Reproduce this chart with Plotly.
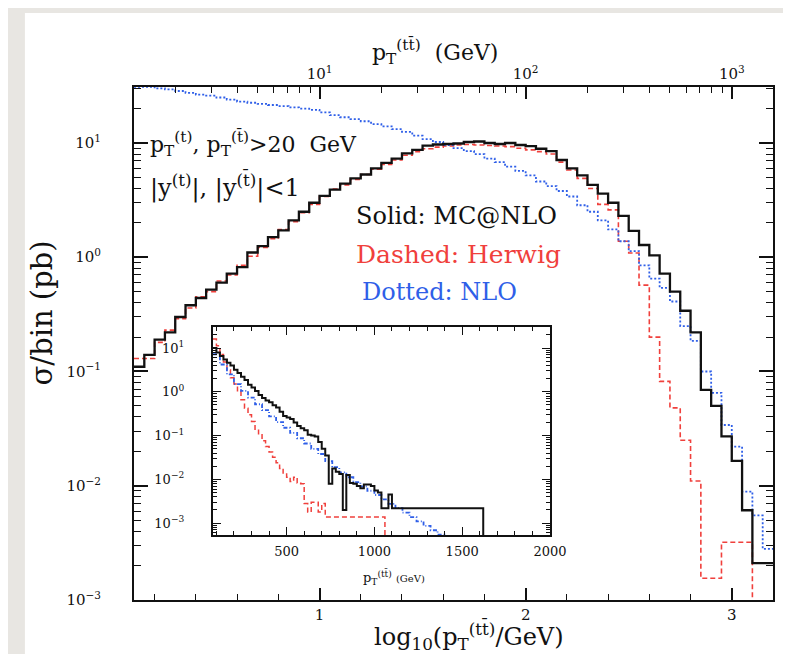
import math
import plotly.graph_objects as go

# ---------------- data ----------------
# main panel: histograms in log10(pT_ttbar / GeV), bins of 0.05 from 0.10 to 3.20
log_pt_edges = [round(0.10 + 0.05 * i, 2) for i in range(63)]

mcatnlo = [0.11, 0.14, 0.19, 0.22, 0.30, 0.38, 0.44, 0.52, 0.60, 0.72,
           0.82, 1.10, 1.25, 1.50, 1.72, 2.10, 2.50, 3.00,
           3.45, 3.90, 4.40, 4.90, 5.30, 6.00, 6.70, 7.30, 8.10, 8.70,
           9.50, 9.70, 9.80, 9.90, 10.2, 10.3, 10.0, 9.80, 10.0, 9.60,
           9.40, 8.90, 8.50, 7.10, 6.00, 5.20, 4.30, 3.60, 3.00, 2.30,
           1.70, 1.28, 1.04, 0.72, 0.50, 0.34, 0.22, 0.069, 0.050, 0.027,
           0.0165, 0.0061, 0.0021, 0.0021]

herwig = [0.13, 0.13, 0.18, 0.23, 0.29, 0.36, 0.45, 0.50, 0.62, 0.70,
          0.85, 1.02, 1.22, 1.45, 1.75, 2.05, 2.45, 2.90,
          3.40, 3.95, 4.30, 4.80, 5.30, 5.90, 6.50, 7.10, 7.80, 8.40,
          8.90, 9.20, 9.40, 9.60, 9.70, 9.60, 9.50, 9.40, 9.30, 9.00,
          8.70, 8.40, 8.00, 6.80, 5.80, 4.90, 4.00, 2.90, 2.60, 1.38,
          1.09, 0.57, 0.20, 0.082, 0.048, 0.025, 0.011, 0.00155, 0.00155, 0.0032,
          0.0032, 0.0032, 0.0, 0.0]

nlo = [31.0, 31.0, 30.0, 29.5, 28.5, 27.5, 26.5, 26.0, 25.0, 24.0,
       23.0, 22.5, 22.0, 21.5, 21.0, 20.5, 20.0, 19.5,
       18.5, 17.5, 16.8, 16.2, 15.5, 14.6, 14.0, 13.2, 12.5, 11.6,
       10.8, 10.2, 9.6, 9.0, 8.5, 8.0, 7.3, 6.8, 6.2, 5.7,
       5.2, 4.6, 4.2, 3.8, 3.4, 2.85, 2.5, 2.1, 1.75, 1.38,
       1.13, 0.85, 0.65, 0.54, 0.41, 0.25, 0.185, 0.10, 0.065, 0.034,
       0.022, 0.0089, 0.0055, 0.0028]

# inset: linear pT_ttbar (GeV)
inset_black_edges = [80 + 20 * i for i in range(53)] + [1620, 2000]
inset_black = [10.0, 7.9, 6.6, 5.5, 4.6, 4.0, 3.2, 2.7, 2.2, 1.86,
               1.45, 1.26, 1.05, 0.85, 0.72, 0.63, 0.575, 0.49, 0.44, 0.35,
               0.28, 0.26, 0.24, 0.20, 0.166, 0.148, 0.132, 0.105, 0.10, 0.095,
               0.071, 0.050, 0.035, 0.0079, 0.0178, 0.015, 0.0132, 0.002, 0.0126, 0.0083,
               0.0079, 0.0071, 0.0063, 0.0076, 0.0076, 0.0071, 0.0056, 0.005, 0.0022, 0.0022,
               0.0045, 0.0022, 0.0022, 0.0]

inset_red_edges = [80 + 20 * i for i in range(33)] + [1060, 2000]
inset_red = [16.0, 11.2, 7.1, 4.8, 3.2, 2.1, 1.5, 1.0, 0.66, 0.42,
             0.30, 0.21, 0.14, 0.105, 0.076, 0.056, 0.042, 0.032, 0.024, 0.0178,
             0.0132, 0.0112, 0.0089, 0.0112, 0.0083, 0.0079, 0.0028, 0.0018, 0.003, 0.003,
             0.0018, 0.0028, 0.00138, 0.0]

inset_blue_edges = [80 + 40 * i for i in range(35)]
inset_blue = [7.2, 4.2, 2.5, 1.5, 1.05, 0.74, 0.52, 0.38, 0.275, 0.204,
              0.151, 0.115, 0.087, 0.066, 0.050, 0.038, 0.026, 0.019, 0.0145, 0.0112,
              0.0087, 0.0069, 0.0055, 0.0044, 0.0035, 0.00275, 0.0022, 0.00174, 0.00138, 0.0011,
              0.00087, 0.00069, 0.00055, 0.00044]

main_y_ticks = [1e-3, 1e-2, 1e-1, 1, 10]
main_y_text = ["10<sup>\u22123</sup>", "10<sup>\u22122</sup>", "10<sup>\u22121</sup>",
               "10<sup>0</sup>", "10<sup>1</sup>"]
main_x_ticks = [1, 2, 3]
main_x_text = ["1", "2", "3"]
top_x_text = ["10<sup>1</sup>", "10<sup>2</sup>", "10<sup>3</sup>"]
inset_x_ticks = [500, 1000, 1500, 2000]
inset_x_text = ["500", "1000", "1500", "2000"]

# ---------------- layout helpers ----------------
W, H = 791, 654
LM, RM, TM, BM = 126, 9, 79, 62
PW, PH = W - LM - RM, H - TM - BM


def pxx(x):
    return (x - LM) / PW


def pxy(y):
    return (H - BM - y) / PH


def steps(edges, values, floor=1e-9):
    ys = [v if v > 0 else floor for v in values]
    return list(edges), ys + [ys[-1]]


BLACK = "#111111"
RED = "#f0403c"
BLUE = "#2f5fe8"
FONT = "DejaVu Serif"

fig = go.Figure()

# main panel
for vals, col, dash, w in [(herwig, RED, "5px,3px", 1.6),
                           (nlo, BLUE, "2px,2px", 1.8),
                           (mcatnlo, BLACK, "solid", 2.3)]:
    xs, ys = steps(log_pt_edges, vals)
    fig.add_trace(go.Scatter(x=xs, y=ys, mode="lines", line_shape="hv",
                             line=dict(color=col, width=w, dash=dash),
                             xaxis="x", yaxis="y", showlegend=False, hoverinfo="skip"))

# inset
for edges, vals, col, dash, w in [(inset_red_edges, inset_red, RED, "5px,3px", 1.5),
                                  (inset_blue_edges, inset_blue, BLUE, "4px,2px,1px,2px", 1.8),
                                  (inset_black_edges, inset_black, BLACK, "solid", 2.0)]:
    xs, ys = steps(edges, vals)
    fig.add_trace(go.Scatter(x=xs, y=ys, mode="lines", line_shape="hv",
                             line=dict(color=col, width=w, dash=dash),
                             xaxis="x2", yaxis="y2", showlegend=False, hoverinfo="skip"))

# invisible trace to activate top axis
fig.add_trace(go.Scatter(x=[1], y=[1], mode="markers", marker=dict(opacity=0),
                         xaxis="x3", yaxis="y", showlegend=False, hoverinfo="skip"))

main_minor_x = [0.2, 0.4, 0.6, 0.8, 1.2, 1.4, 1.6, 1.8, 2.2, 2.4, 2.6, 2.8]
top_minor = [n + math.log10(k) for n in range(0, 4) for k in range(2, 10) if 0.1 < n + math.log10(k) < 3.2]
y_minor = [k * 10 ** n for n in range(-3, 2) for k in range(2, 10)]
inset_x_minor = [100 * i for i in range(1, 20) if i % 5 != 0]
inset_y_minor = [k * 10 ** n for n in range(-4, 2) for k in range(2, 10)]

tickfont = dict(family=FONT, size=15, color=BLACK)
ifont = dict(family=FONT, size=13, color=BLACK)

fig.update_layout(
    width=W, height=H, autosize=False,
    margin=dict(l=LM, r=RM, t=TM, b=BM, pad=0),
    paper_bgcolor="#e8e6e2", plot_bgcolor="white",
    showlegend=False,
    xaxis=dict(domain=[0, 1], range=[0.1, 3.2], anchor="y",
               tickmode="array", tickvals=main_x_ticks, ticktext=main_x_text,
               ticks="inside", ticklen=12, tickwidth=1.6, tickcolor=BLACK,
               minor=dict(tickmode="array", tickvals=main_minor_x, ticks="inside",
                          ticklen=6, tickwidth=1.4, tickcolor=BLACK, showgrid=False),
               showline=True, linewidth=2, linecolor=BLACK, mirror=True,
               showgrid=False, zeroline=False, tickfont=tickfont, ticklabelstandoff=0),
    xaxis3=dict(overlaying="x", side="top", range=[0.1, 3.2], anchor="y",
                tickmode="array", tickvals=main_x_ticks, ticktext=top_x_text,
                ticks="inside", ticklen=12, tickwidth=1.6, tickcolor=BLACK,
                minor=dict(tickmode="array", tickvals=top_minor, ticks="inside",
                           ticklen=6, tickwidth=1.4, tickcolor=BLACK, showgrid=False),
                showline=False, showgrid=False, zeroline=False, tickfont=tickfont,
                ticklabelstandoff=4),
    yaxis=dict(domain=[0, 1], type="log", range=[-3, 1.49], anchor="x",
               tickmode="array", tickvals=main_y_ticks, ticktext=main_y_text,
               ticks="inside", ticklen=14, tickwidth=1.6, tickcolor=BLACK,
               minor=dict(tickmode="array", tickvals=y_minor, ticks="inside",
                          ticklen=7, tickwidth=1.4, tickcolor=BLACK, showgrid=False),
               showline=True, linewidth=2, linecolor=BLACK, mirror="ticks",
               showgrid=False, zeroline=False, tickfont=tickfont, ticklabelstandoff=28),
    xaxis2=dict(domain=[pxx(207), pxx(553)], range=[80, 2000], anchor="y2",
                tickmode="array", tickvals=inset_x_ticks, ticktext=inset_x_text,
                ticks="inside", ticklen=8, tickwidth=1.4, tickcolor=BLACK,
                minor=dict(tickmode="array", tickvals=inset_x_minor, ticks="inside",
                           ticklen=4, tickwidth=1.2, tickcolor=BLACK, showgrid=False),
                showline=True, linewidth=2, linecolor=BLACK, mirror="ticks",
                showgrid=False, zeroline=False, tickfont=ifont, ticklabelstandoff=3),
    yaxis2=dict(domain=[pxy(527), pxy(319)], type="log", range=[-3.27, 1.48], anchor="x2",
                tickmode="array", tickvals=main_y_ticks, ticktext=main_y_text,
                ticks="inside", ticklen=8, tickwidth=1.4, tickcolor=BLACK,
                minor=dict(tickmode="array", tickvals=inset_y_minor, ticks="inside",
                           ticklen=4, tickwidth=1.2, tickcolor=BLACK, showgrid=False),
                showline=True, linewidth=2, linecolor=BLACK, mirror="ticks",
                showgrid=False, zeroline=False, tickfont=ifont, ticklabelstandoff=24),
)

# white sheet over the grey border
fig.add_shape(type="rect", xref="paper", yref="paper",
              x0=pxx(14), x1=pxx(W + 2), y0=pxy(H + 2), y1=pxy(5),
              fillcolor="white", line=dict(width=0), layer="below")


def note(text, x, y, size, color=BLACK, xanchor="left", yanchor="middle", angle=0):
    fig.add_annotation(text=text, x=pxx(x), y=pxy(y), xref="paper", yref="paper",
                       showarrow=False, xanchor=xanchor, yanchor=yanchor, textangle=angle,
                       font=dict(family=FONT, size=size, color=color))


note("p<sub>T</sub><sup>(tt\u0304)</sup>  (GeV)", 435, 44, 22, xanchor="center")
note("log<sub>10</sub>(p<sub>T</sub><sup>(tt\u0304)</sup>/GeV)", 470, 627, 24, xanchor="center")
note("\u03c3/bin (pb)", 32, 305, 29, xanchor="center", angle=-90)
note("p<sub>T</sub><sup>(t)</sup>, p<sub>T</sub><sup>(t\u0304)</sup>>20  GeV", 140, 136, 22)
note("|y<sup>(t)</sup>|, |y<sup>(t\u0304)</sup>|<1", 140, 177, 24)
note("Solid: MC@NLO", 352, 208, 24, BLACK)
note("Dashed: Herwig", 352, 246, 25, RED)
note("Dotted: NLO", 358, 284, 24, BLUE)
note("p<sub>T</sub><sup>(tt\u0304)</sup> <span style='font-size:10px'>(GeV)</span>", 393, 569, 13,
     xanchor="center")

fig.write_html("out.html")
